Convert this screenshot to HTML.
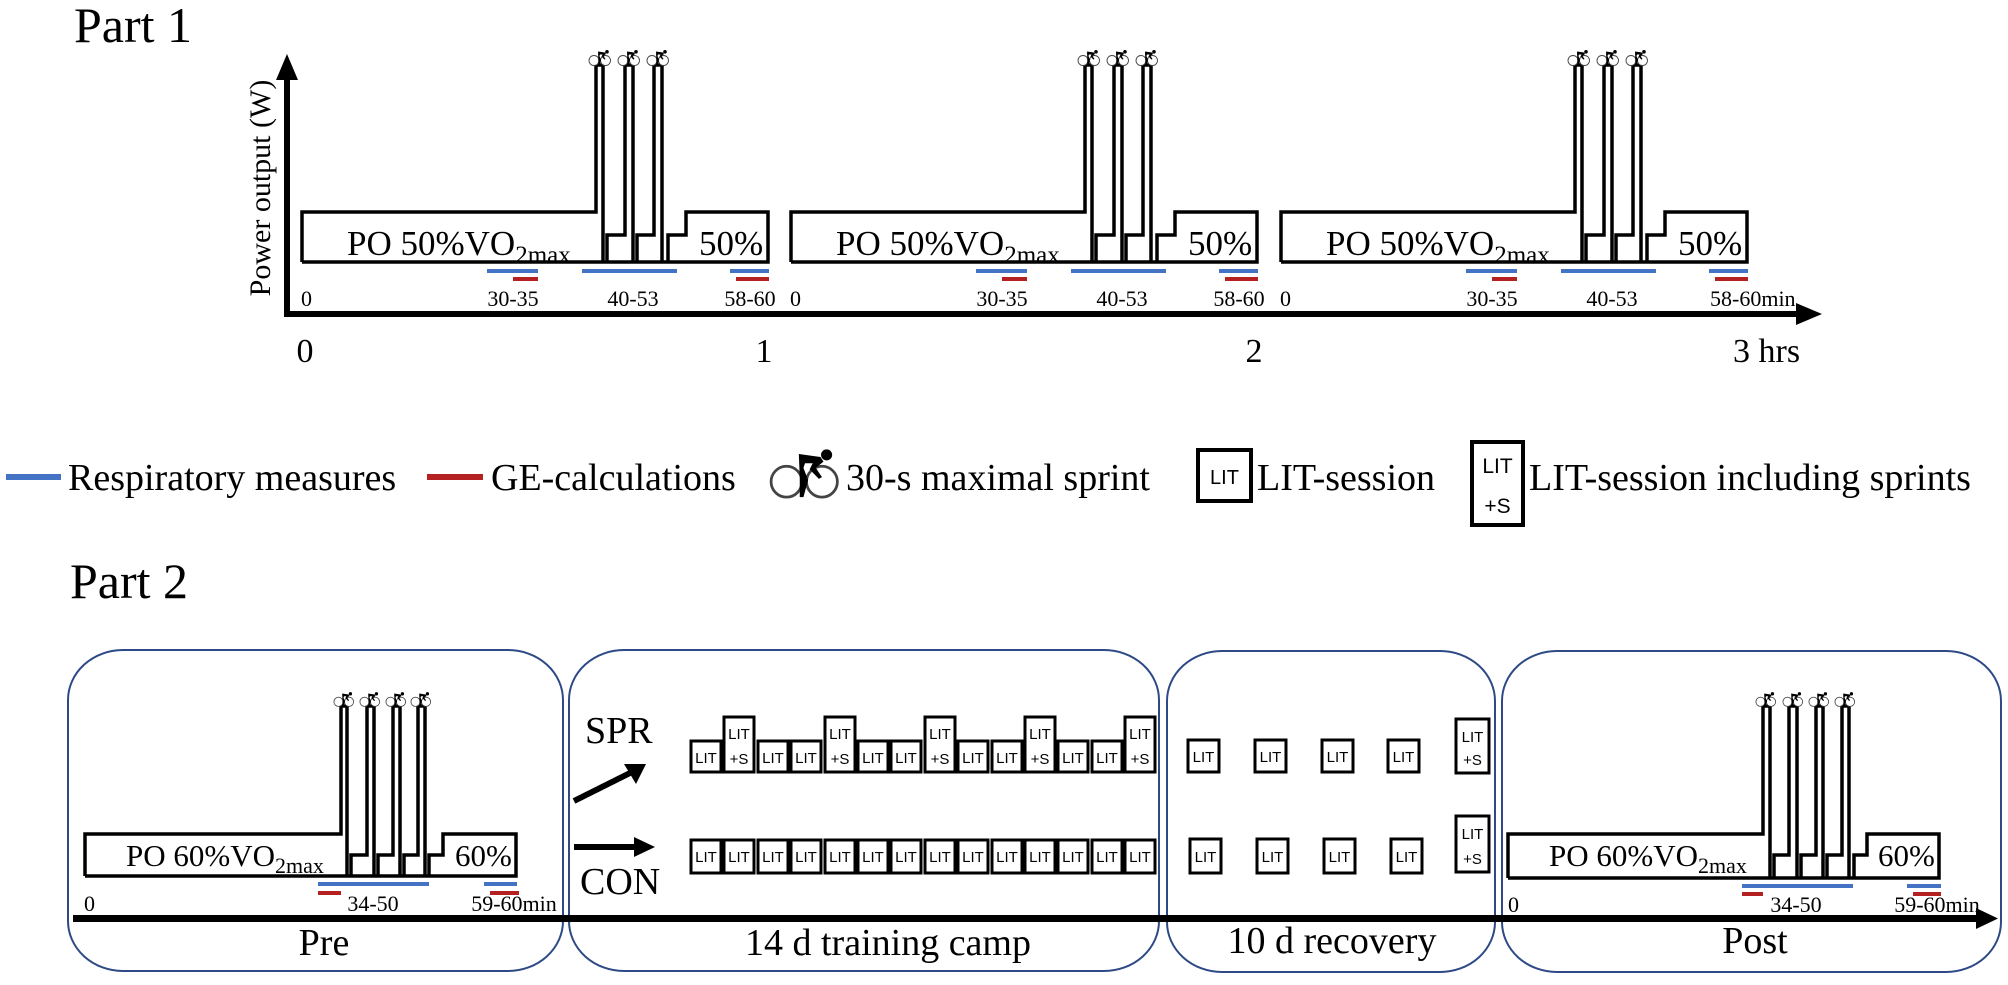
<!DOCTYPE html>
<html><head><meta charset="utf-8"><style>
html,body{margin:0;padding:0;background:#fff}
svg{display:block}
text{font-family:"Liberation Serif",serif;fill:#000}
.s{font-family:"Liberation Sans",sans-serif}
</style></head><body>
<svg width="2008" height="985" viewBox="0 0 2008 985" xmlns="http://www.w3.org/2000/svg">
<defs>
<symbol id="bike" viewBox="0 0 24 16">
<circle cx="6" cy="10.5" r="5" fill="#fff" stroke="#444" stroke-width="0.9"/>
<circle cx="17.5" cy="10.5" r="5" fill="#fff" stroke="#444" stroke-width="0.9"/>
<circle cx="19" cy="1.8" r="1.8" fill="#000"/>
<path d="M10,1.5 L17,2.5 L18,4 L15.5,6 L17.5,9 L16.5,9.6 L13.5,6.5 L14.5,4.5 L12,4.5 L11.5,6 L13,10 L11.5,15.5 L10.3,15.5 L10.3,9 Z" fill="#000"/>
</symbol>
<g id="sess1">
<path d="M302,262 V212 H596 V65 H603 V262 M607,262 V235 H625 V65 H633 V262 M637,262 V235 H654 V65 H662 V262 M302,262 H768 V212 H686 V235 H668 V262" fill="none" stroke="#000" stroke-width="3.5"/>
<use href="#bike" x="588" y="50" width="24" height="16"/>
<use href="#bike" x="617" y="50" width="24" height="16"/>
<use href="#bike" x="646" y="50" width="24" height="16"/>
<rect x="487" y="269" width="51" height="4" fill="#4472c4"/>
<rect x="513" y="277" width="25" height="4" fill="#b52020"/>
<rect x="582" y="269" width="95" height="4" fill="#4472c4"/>
<rect x="730" y="269" width="39" height="4" fill="#4472c4"/>
<rect x="736" y="277" width="33" height="4" fill="#b52020"/>
<text x="347" y="255" font-size="35">PO 50%VO<tspan font-size="25" dy="8">2max</tspan></text>
<text x="699" y="255" font-size="35">50%</text>
<text x="301" y="306" font-size="22">0</text>
<text x="513" y="306" font-size="22" text-anchor="middle">30-35</text>
<text x="633" y="306" font-size="22" text-anchor="middle">40-53</text>
</g>
</defs>

<text x="74" y="42" font-size="50">Part 1</text>
<text transform="translate(270,188) rotate(-90)" font-size="30" text-anchor="middle">Power output (W)</text>
<rect x="284" y="76" width="6" height="241" fill="#000"/>
<path d="M287,54 L276,80 L298,80 Z" fill="#000"/>
<rect x="284" y="311" width="1516" height="6" fill="#000"/>
<path d="M1822,314 L1796,303 L1796,325 Z" fill="#000"/>

<use href="#sess1"/>
<use href="#sess1" transform="translate(489,0)"/>
<use href="#sess1" transform="translate(979,0)"/>
<text x="750" y="306" font-size="22" text-anchor="middle">58-60</text>
<text x="1239" y="306" font-size="22" text-anchor="middle">58-60</text>
<text x="1710" y="306" font-size="22">58-60min</text>

<text x="305" y="362" font-size="34" text-anchor="middle">0</text>
<text x="764" y="362" font-size="34" text-anchor="middle">1</text>
<text x="1254" y="362" font-size="34" text-anchor="middle">2</text>
<text x="1733" y="362" font-size="34">3 hrs</text>

<rect x="6" y="474" width="55" height="6" fill="#4472c4"/>
<text x="68" y="490" font-size="38">Respiratory measures</text>
<rect x="427" y="474" width="56" height="6" fill="#b52020"/>
<text x="491" y="490" font-size="38">GE-calculations</text>
<use href="#bike" x="768" y="446" width="74" height="56" preserveAspectRatio="none"/>
<text x="846" y="490" font-size="38">30-s maximal sprint</text>
<rect x="1198" y="450" width="53" height="51" fill="#fff" stroke="#000" stroke-width="4"/>
<text class="s" x="1224.5" y="484" font-size="20" text-anchor="middle">LIT</text>
<text x="1257" y="490" font-size="38">LIT-session</text>
<rect x="1472" y="442" width="51" height="83" fill="#fff" stroke="#000" stroke-width="4"/>
<text class="s" x="1497.5" y="473" font-size="21" text-anchor="middle">LIT</text>
<text class="s" x="1497.5" y="513" font-size="21" text-anchor="middle">+S</text>
<text x="1529" y="490" font-size="38">LIT-session including sprints</text>

<text x="70" y="598" font-size="50">Part 2</text>

<g fill="none" stroke="#2e4a86" stroke-width="2">
<rect x="68" y="650" width="495" height="321" rx="55" ry="50"/>
<rect x="569" y="650" width="590" height="321" rx="55" ry="50"/>
<rect x="1167" y="651" width="328" height="321" rx="55" ry="50"/>
<rect x="1502" y="651" width="499" height="321" rx="55" ry="50"/>
</g>

<path d="M85,876 V834 H341 V706 H347 V876 M351,876 V855 H367 V706 H374 V876 M378,876 V855 H393 V706 H400 V876 M404,876 V855 H418 V706 H425 V876 M85,876 H516 V834 H443 V855 H429 V876" fill="none" stroke="#000" stroke-width="3.5"/>
<use href="#bike" x="333" y="692" width="22" height="15"/>
<use href="#bike" x="359" y="692" width="22" height="15"/>
<use href="#bike" x="385" y="692" width="22" height="15"/>
<use href="#bike" x="410" y="692" width="22" height="15"/>
<text x="126" y="866" font-size="31">PO 60%VO<tspan font-size="22" dy="7">2max</tspan></text>
<text x="455" y="866" font-size="31">60%</text>
<rect x="318" y="882" width="111" height="4" fill="#4472c4"/>
<rect x="318" y="891" width="23" height="4" fill="#b52020"/>
<rect x="484" y="882" width="33" height="4" fill="#4472c4"/>
<rect x="490" y="891" width="29" height="4" fill="#b52020"/>
<text x="84" y="911" font-size="22">0</text>
<text x="373" y="911" font-size="22" text-anchor="middle">34-50</text>
<text x="514" y="911" font-size="22" text-anchor="middle">59-60min</text>

<path d="M1508,878 V834 H1763 V706 H1770 V878 M1774,878 V855 H1789 V706 H1797 V878 M1801,878 V855 H1816 V706 H1823 V878 M1827,878 V855 H1842 V706 H1849 V878 M1508,878 H1939 V834 H1867 V855 H1854 V878" fill="none" stroke="#000" stroke-width="3.5"/>
<use href="#bike" x="1755" y="692" width="22" height="15"/>
<use href="#bike" x="1782" y="692" width="22" height="15"/>
<use href="#bike" x="1808" y="692" width="22" height="15"/>
<use href="#bike" x="1834" y="692" width="22" height="15"/>
<text x="1549" y="866" font-size="31">PO 60%VO<tspan font-size="22" dy="7">2max</tspan></text>
<text x="1878" y="866" font-size="31">60%</text>
<rect x="1742" y="884" width="111" height="4" fill="#4472c4"/>
<rect x="1742" y="892" width="21" height="4" fill="#b52020"/>
<rect x="1907" y="884" width="34" height="4" fill="#4472c4"/>
<rect x="1913" y="892" width="28" height="4" fill="#b52020"/>
<text x="1508" y="912" font-size="22">0</text>
<text x="1796" y="912" font-size="22" text-anchor="middle">34-50</text>
<text x="1937" y="912" font-size="22" text-anchor="middle">59-60min</text>

<rect x="73" y="915" width="1908" height="7" fill="#000"/>
<path d="M1998,918.5 L1976,908 L1976,929 Z" fill="#000"/>

<text x="324" y="955" font-size="38" text-anchor="middle">Pre</text>
<text x="888" y="955" font-size="38" text-anchor="middle">14 d training camp</text>
<text x="1332" y="953" font-size="38" text-anchor="middle">10 d recovery</text>
<text x="1755" y="953" font-size="38" text-anchor="middle">Post</text>

<text x="585" y="743" font-size="38">SPR</text>
<text x="580" y="894" font-size="38">CON</text>
<line x1="574" y1="801" x2="634" y2="771" stroke="#000" stroke-width="6"/>
<path d="M646,764 L624,764 L636,784 Z" fill="#000"/>
<line x1="574" y1="847" x2="636" y2="847" stroke="#000" stroke-width="6"/>
<path d="M655,847 L634,837 L634,857 Z" fill="#000"/>

<g fill="#fff" stroke="#000" stroke-width="3">
<rect x="691" y="741" width="30" height="31"/>
<rect x="724" y="717" width="30" height="55"/>
<rect x="758" y="741" width="30" height="31"/>
<rect x="791" y="741" width="30" height="31"/>
<rect x="825" y="717" width="30" height="55"/>
<rect x="858" y="741" width="30" height="31"/>
<rect x="891" y="741" width="30" height="31"/>
<rect x="925" y="717" width="30" height="55"/>
<rect x="958" y="741" width="30" height="31"/>
<rect x="992" y="741" width="30" height="31"/>
<rect x="1025" y="717" width="30" height="55"/>
<rect x="1058" y="741" width="30" height="31"/>
<rect x="1092" y="741" width="30" height="31"/>
<rect x="1125" y="717" width="30" height="55"/>
<rect x="691" y="840" width="30" height="33"/>
<rect x="724" y="840" width="30" height="33"/>
<rect x="758" y="840" width="30" height="33"/>
<rect x="791" y="840" width="30" height="33"/>
<rect x="825" y="840" width="30" height="33"/>
<rect x="858" y="840" width="30" height="33"/>
<rect x="891" y="840" width="30" height="33"/>
<rect x="925" y="840" width="30" height="33"/>
<rect x="958" y="840" width="30" height="33"/>
<rect x="992" y="840" width="30" height="33"/>
<rect x="1025" y="840" width="30" height="33"/>
<rect x="1058" y="840" width="30" height="33"/>
<rect x="1092" y="840" width="30" height="33"/>
<rect x="1125" y="840" width="30" height="33"/>
<rect x="1188" y="740" width="31" height="32"/>
<rect x="1255" y="740" width="31" height="32"/>
<rect x="1322" y="740" width="31" height="32"/>
<rect x="1388" y="740" width="31" height="32"/>
<rect x="1456" y="719" width="33" height="54"/>
<rect x="1190" y="839" width="31" height="34"/>
<rect x="1257" y="839" width="31" height="34"/>
<rect x="1324" y="839" width="31" height="34"/>
<rect x="1391" y="839" width="31" height="34"/>
<rect x="1456" y="816" width="33" height="56"/>
</g>
<g class="s" font-size="15" text-anchor="middle">
<text class="s" x="706" y="763">LIT</text>
<text class="s" x="739" y="739">LIT</text><text class="s" x="739" y="764">+S</text>
<text class="s" x="773" y="763">LIT</text>
<text class="s" x="806" y="763">LIT</text>
<text class="s" x="840" y="739">LIT</text><text class="s" x="840" y="764">+S</text>
<text class="s" x="873" y="763">LIT</text>
<text class="s" x="906" y="763">LIT</text>
<text class="s" x="940" y="739">LIT</text><text class="s" x="940" y="764">+S</text>
<text class="s" x="973" y="763">LIT</text>
<text class="s" x="1007" y="763">LIT</text>
<text class="s" x="1040" y="739">LIT</text><text class="s" x="1040" y="764">+S</text>
<text class="s" x="1073" y="763">LIT</text>
<text class="s" x="1107" y="763">LIT</text>
<text class="s" x="1140" y="739">LIT</text><text class="s" x="1140" y="764">+S</text>
<text class="s" x="706" y="862">LIT</text>
<text class="s" x="739" y="862">LIT</text>
<text class="s" x="773" y="862">LIT</text>
<text class="s" x="806" y="862">LIT</text>
<text class="s" x="840" y="862">LIT</text>
<text class="s" x="873" y="862">LIT</text>
<text class="s" x="906" y="862">LIT</text>
<text class="s" x="940" y="862">LIT</text>
<text class="s" x="973" y="862">LIT</text>
<text class="s" x="1007" y="862">LIT</text>
<text class="s" x="1040" y="862">LIT</text>
<text class="s" x="1073" y="862">LIT</text>
<text class="s" x="1107" y="862">LIT</text>
<text class="s" x="1140" y="862">LIT</text>
<text class="s" x="1203.5" y="762">LIT</text>
<text class="s" x="1270.5" y="762">LIT</text>
<text class="s" x="1337.5" y="762">LIT</text>
<text class="s" x="1403.5" y="762">LIT</text>
<text class="s" x="1472.5" y="742">LIT</text><text class="s" x="1472.5" y="765">+S</text>
<text class="s" x="1205.5" y="862">LIT</text>
<text class="s" x="1272.5" y="862">LIT</text>
<text class="s" x="1339.5" y="862">LIT</text>
<text class="s" x="1406.5" y="862">LIT</text>
<text class="s" x="1472.5" y="839">LIT</text><text class="s" x="1472.5" y="864">+S</text>
</g>
</svg>
</body></html>
